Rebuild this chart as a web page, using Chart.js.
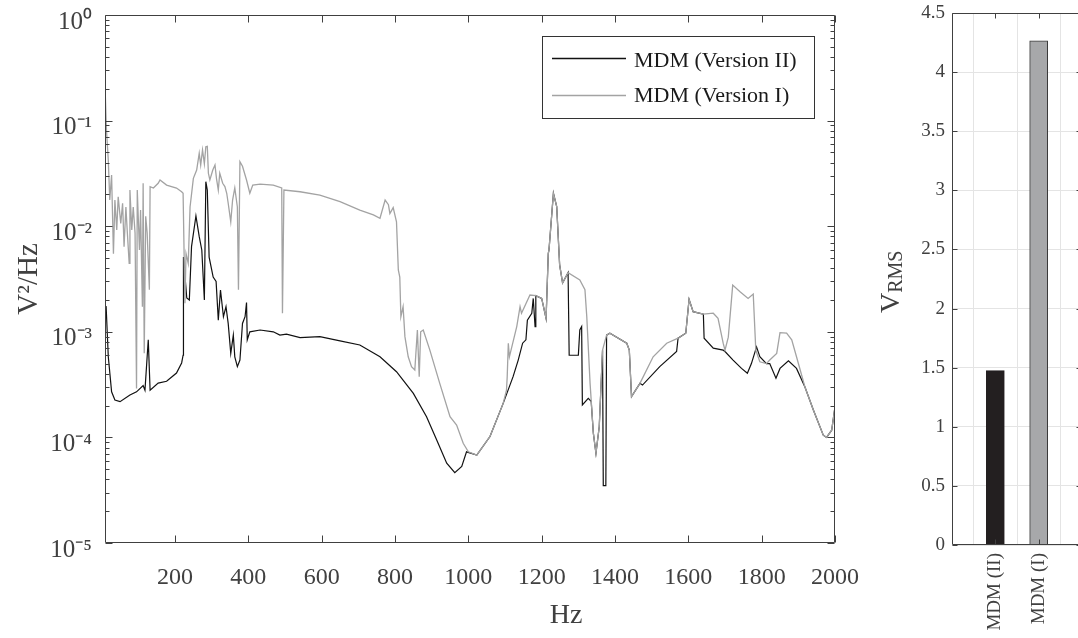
<!DOCTYPE html>
<html>
<head>
<meta charset="utf-8">
<script src="https://cdn.jsdelivr.net/npm/chart.js@4.4.0/dist/chart.umd.min.js"></script>
<style>
    html, body { margin: 0; padding: 0; background: #fff; overflow: hidden; width: 1078px; height: 638px; }
    #psdChart { position: absolute; left: 0; top: 0; }
    #rmsChart { position: absolute; left: 860px; top: 0; }
</style>
</head>
<body>
<canvas id="psdChart" width="880" height="638"></canvas>
<canvas id="rmsChart" width="230" height="638"></canvas>
<script>
// MDM (Version II) - black line
var freqII = [12, 18, 27, 36, 50, 77, 95, 113, 118, 127, 132, 154, 177, 204, 218, 222, 223, 232, 239, 245, 257, 266, 273, 280, 284, 288, 293, 304, 312, 318, 324, 332, 339, 345, 352, 359, 363, 370, 377, 384, 391, 395, 397, 404, 432, 468, 486, 504, 541, 595, 650, 704, 759, 804, 850, 886, 914, 941, 963, 982, 995, 1023, 1059, 1095, 1122, 1136, 1148, 1157, 1161, 1173, 1177, 1182, 1184, 1200, 1212, 1218, 1220, 1232, 1241, 1249, 1257, 1272, 1275, 1300, 1304, 1309, 1311, 1327, 1335, 1341, 1348, 1357, 1366, 1368, 1375, 1377, 1386, 1432, 1439, 1445, 1468, 1475, 1522, 1568, 1572, 1593, 1602, 1613, 1641, 1643, 1668, 1695, 1700, 1722, 1745, 1761, 1772, 1786, 1795, 1813, 1822, 1839, 1850, 1873, 1895, 1918, 1941, 1968, 1977, 1991, 2000];
var psdII = [1.75e-3, 5.8e-4, 2.7e-4, 2.26e-4, 2.18e-4, 2.52e-4, 2.7e-4, 3.1e-4, 2.8e-4, 8.4e-4, 2.8e-4, 3.27e-4, 3.4e-4, 4.07e-4, 5.07e-4, 6.0e-4, 5.1e-3, 2.09e-3, 2.0e-3, 6.4e-3, 1.25e-2, 7.96e-3, 5.95e-3, 2.0e-3, 2.64e-2, 2.2e-2, 5.1e-3, 3.3e-3, 3.0e-3, 1.29e-3, 2.49e-3, 1.39e-3, 1.73e-3, 1.2e-3, 6.25e-4, 9.3e-4, 5.8e-4, 4.68e-4, 5.4e-4, 1.2e-3, 1.39e-3, 1.89e-3, 8.4e-4, 1.0e-3, 1.04e-3, 1.0e-3, 9.3e-4, 9.5e-4, 8.8e-4, 9.0e-4, 8.2e-4, 7.5e-4, 5.8e-4, 4.19e-4, 2.61e-4, 1.57e-4, 9.4e-5, 5.7e-5, 4.63e-5, 5.3e-5, 7.3e-5, 6.8e-5, 1.02e-4, 2.1e-4, 3.76e-4, 5.4e-4, 7.8e-4, 8.4e-4, 1.29e-3, 1.5e-3, 2.07e-3, 1.12e-3, 2.2e-3, 2.07e-3, 1.34e-3, 5.5e-3, 6.0e-3, 2.05e-2, 1.53e-2, 4.3e-3, 2.9e-3, 3.63e-3, 6.0e-4, 6.0e-4, 1.04e-3, 1.12e-3, 2.03e-4, 2.34e-4, 2.2e-4, 1.09e-4, 7.07e-5, 1.26e-4, 6.7e-4, 3.5e-5, 3.5e-5, 9.3e-4, 9.7e-4, 7.8e-4, 6.7e-4, 2.43e-4, 3.25e-4, 3.13e-4, 4.68e-4, 6.5e-4, 8.7e-4, 9.7e-4, 2.03e-3, 1.55e-3, 1.47e-3, 8.7e-4, 7.0e-4, 6.7e-4, 6.5e-4, 5.4e-4, 4.5e-4, 4.05e-4, 5.0e-4, 7.2e-4, 5.8e-4, 5.0e-4, 5.0e-4, 3.63e-4, 4.5e-4, 5.3e-4, 4.5e-4, 3.0e-4, 1.82e-4, 1.05e-4, 1.0e-4, 1.17e-4, 1.95e-4];

// MDM (Version I) - gray line
var freqI = [10, 13, 18, 22, 27, 32, 36, 41, 45, 52, 57, 61, 66, 70, 75, 77, 82, 86, 91, 95, 97, 103, 106, 111, 113, 116, 120, 124, 130, 132, 141, 154, 159, 177, 204, 218, 222, 227, 230, 236, 241, 250, 259, 266, 270, 275, 280, 284, 288, 291, 295, 303, 309, 313, 318, 322, 330, 336, 341, 345, 352, 357, 363, 370, 373, 377, 384, 395, 404, 412, 432, 468, 491, 493, 497, 541, 595, 650, 704, 741, 759, 773, 782, 786, 795, 804, 809, 813, 816, 822, 827, 836, 845, 854, 861, 866, 870, 877, 895, 922, 950, 968, 986, 1000, 1023, 1059, 1095, 1104, 1106, 1109, 1112, 1132, 1141, 1145, 1168, 1184, 1200, 1212, 1218, 1220, 1232, 1241, 1249, 1257, 1272, 1304, 1318, 1323, 1332, 1341, 1348, 1357, 1366, 1377, 1386, 1432, 1439, 1445, 1468, 1504, 1541, 1572, 1593, 1602, 1613, 1641, 1668, 1681, 1695, 1700, 1709, 1721, 1741, 1763, 1777, 1784, 1795, 1813, 1822, 1841, 1850, 1868, 1882, 1895, 1918, 1941, 1968, 1977, 1991, 2000];
var psdI = [0.168, 8.1e-2, 4.2e-2, 1.77e-2, 3.05e-2, 5.5e-3, 1.77e-2, 9.2e-3, 1.9e-2, 1.06e-2, 1.65e-2, 6.4e-3, 1.52e-2, 8.6e-3, 4.45e-3, 2.2e-2, 9.2e-3, 1.52e-2, 8.6e-3, 2.9e-4, 2.2e-2, 5.95e-3, 1.42e-2, 1.73e-3, 2.55e-2, 6.25e-4, 1.24e-2, 8.6e-3, 2.5e-3, 2.37e-2, 2.3e-2, 2.55e-2, 2.74e-2, 2.45e-2, 2.3e-2, 2.12e-2, 2.05e-2, 1.86e-3, 5.5e-3, 4.45e-3, 1.52e-2, 2.84e-2, 3.4e-2, 4.9e-2, 3.8e-2, 5.27e-2, 3.9e-2, 5.66e-2, 5.7e-2, 3.17e-2, 2.74e-2, 3.4e-2, 3.8e-2, 2.84e-2, 2.2e-2, 3.17e-2, 2.55e-2, 2.37e-2, 2.05e-2, 1.65e-2, 1.1e-2, 1.77e-2, 2.3e-2, 1.52e-2, 2.5e-3, 4.08e-2, 3.7e-2, 2.74e-2, 2.05e-2, 2.45e-2, 2.5e-2, 2.45e-2, 2.3e-2, 1.5e-3, 2.2e-2, 2.12e-2, 1.97e-2, 1.71e-2, 1.42e-2, 1.28e-2, 1.19e-2, 1.77e-2, 1.6e-2, 1.32e-2, 1.5e-2, 1.1e-2, 3.85e-3, 3.3e-3, 1.39e-3, 1.73e-3, 9.0e-4, 5.8e-4, 4.68e-4, 4.35e-4, 1.04e-3, 3.76e-4, 1.0e-3, 1.04e-3, 6.7e-4, 3.25e-4, 1.57e-4, 1.31e-4, 8.8e-5, 7.3e-5, 6.8e-5, 1.02e-4, 2.1e-4, 2.8e-4, 3.76e-4, 7.8e-4, 5.8e-4, 1.12e-3, 1.73e-3, 1.5e-3, 2.23e-3, 2.2e-3, 2.07e-3, 1.34e-3, 5.5e-3, 6.0e-3, 2.05e-2, 1.53e-2, 4.3e-3, 2.9e-3, 3.63e-3, 3.1e-3, 2.5e-3, 1.39e-3, 3.25e-4, 1.09e-4, 7.07e-5, 1.26e-4, 6.7e-4, 9.3e-4, 9.7e-4, 7.8e-4, 6.7e-4, 2.43e-4, 3.25e-4, 5.8e-4, 7.8e-4, 8.7e-4, 9.7e-4, 2.03e-3, 1.55e-3, 1.47e-3, 1.5e-3, 1.34e-3, 7.8e-4, 6.7e-4, 8.9e-4, 2.77e-3, 2.4e-3, 2.07e-3, 2.28e-3, 6.7e-4, 5.2e-4, 5.0e-4, 5.4e-4, 6.25e-4, 9.8e-4, 9.7e-4, 8.4e-4, 5.8e-4, 3.0e-4, 1.82e-4, 1.05e-4, 1.0e-4, 1.17e-4, 1.95e-4];

var xTickValues = [200, 400, 600, 800, 1000, 1200, 1400, 1600, 1800, 2000];
var legendNames = ['MDM (Version II)', 'MDM (Version I)'];

// RMS bars
var barLabels = ['MDM (II)', 'MDM (I)'];
var barValues = [1.475, 4.265];

var FONT = "'Liberation Serif', 'Times New Roman', serif";
var AXIS_COLOR = '#404040';
var SUP = { '0': '\u2070', '1': '\u00b9', '2': '\u00b2', '3': '\u00b3', '4': '\u2074', '5': '\u2075', '-': '\u207b' };

function toPoints(xs, ys) {
    var pts = [];
    for (var i = 0; i < xs.length; i++) {
        pts.push({ x: xs[i], y: ys[i] });
    }
    return pts;
}

function isDecade(v) {
    var e = Math.log10(v);
    return Math.abs(e - Math.round(e)) < 1e-9;
}

function noPadding(scale) {
    scale.paddingTop = 0;
    scale.paddingBottom = 0;
    scale.paddingLeft = 0;
    scale.paddingRight = 0;
}

// draws the axes box and the inward tick marks (MATLAB style)
function drawBox(chart, xLen, yLenFn) {
    var ctx = chart.ctx, a = chart.chartArea;
    var l = Math.round(a.left) + 0.5, r = Math.round(a.right) - 0.5;
    var t = Math.round(a.top) + 0.5, b = Math.round(a.bottom) - 0.5;
    ctx.save();
    ctx.strokeStyle = AXIS_COLOR;
    ctx.lineWidth = 1;
    ctx.beginPath();
    ctx.rect(l, t, r - l, b - t);
    chart.scales.x.ticks.forEach(function (tk) {
        var px = Math.round(chart.scales.x.getPixelForValue(tk.value)) + 0.5;
        ctx.moveTo(px, b); ctx.lineTo(px, b - xLen);
        ctx.moveTo(px, t); ctx.lineTo(px, t + xLen);
    });
    chart.scales.y.ticks.forEach(function (tk) {
        var py = Math.round(chart.scales.y.getPixelForValue(tk.value)) + 0.5;
        var len = yLenFn(tk.value);
        ctx.moveTo(l, py); ctx.lineTo(l + len, py);
        ctx.moveTo(r, py); ctx.lineTo(r - len, py);
    });
    ctx.stroke();
    ctx.restore();
}

var psdDecor = {
    id: 'psdDecor',
    afterDatasetsDraw: function (chart) {
        drawBox(chart, 7, function (v) { return isDecade(v) ? 7 : 4; });
        var ctx = chart.ctx;
        ctx.save();
        // legend
        ctx.fillStyle = '#fff';
        ctx.strokeStyle = '#333';
        ctx.lineWidth = 1;
        ctx.fillRect(542.5, 36.5, 272, 82);
        ctx.strokeRect(542.5, 36.5, 272, 82);
        var colors = ['#111111', '#a3a3a3'];
        var lineY = [58.5, 95.5];
        var textY = [67, 102];
        for (var i = 0; i < legendNames.length; i++) {
            ctx.strokeStyle = colors[i];
            ctx.lineWidth = 1.3;
            ctx.beginPath();
            ctx.moveTo(552, lineY[i]);
            ctx.lineTo(626, lineY[i]);
            ctx.stroke();
            ctx.fillStyle = '#1a1a1a';
            ctx.font = '22px ' + FONT;
            ctx.textAlign = 'left';
            ctx.textBaseline = 'alphabetic';
            ctx.fillText(legendNames[i], 634, textY[i]);
        }
        // x axis label
        ctx.fillStyle = AXIS_COLOR;
        ctx.font = '28px ' + FONT;
        ctx.textAlign = 'center';
        ctx.fillText('Hz', 566, 623);
        ctx.restore();
    }
};

var rmsDecor = {
    id: 'rmsDecor',
    afterDatasetsDraw: function (chart) {
        drawBox(chart, 5, function () { return 5; });
        var ctx = chart.ctx;
        ctx.save();
        ctx.translate(39, 313);
        ctx.rotate(-Math.PI / 2);
        ctx.fillStyle = AXIS_COLOR;
        ctx.textAlign = 'left';
        ctx.textBaseline = 'alphabetic';
        ctx.font = '28px ' + FONT;
        ctx.fillText('V', 0, 0);
        var w = ctx.measureText('V').width;
        ctx.font = '20px ' + FONT;
        ctx.fillText('RMS', w, 3);
        ctx.restore();
    }
};

var psdChart = new Chart(document.getElementById('psdChart'), {
    type: 'line',
    data: {
        datasets: [
            {
                label: legendNames[1],
                data: toPoints(freqI, psdI),
                borderColor: '#a3a3a3',
                borderWidth: 1.3,
                pointRadius: 0,
                tension: 0,
                fill: false
            },
            {
                label: legendNames[0],
                data: toPoints(freqII, psdII),
                borderColor: '#111111',
                borderWidth: 1.2,
                pointRadius: 0,
                tension: 0,
                fill: false
            }
        ]
    },
    options: {
        responsive: false,
        animation: false,
        devicePixelRatio: 1,
        events: [],
        layout: { padding: { top: 15, right: 45, left: 0, bottom: 0 } },
        plugins: { legend: { display: false }, tooltip: { enabled: false } },
        scales: {
            x: {
                type: 'linear',
                min: 9,
                max: 2000,
                grid: { display: false },
                border: { display: false },
                afterBuildTicks: function (scale) {
                    scale.ticks = xTickValues.map(function (v) { return { value: v }; });
                },
                afterFit: function (scale) { scale.height = 95; noPadding(scale); },
                ticks: {
                    autoSkip: false,
                    maxRotation: 0,
                    padding: 12,
                    color: AXIS_COLOR,
                    font: { family: FONT, size: 24 },
                    callback: function (v) { return String(v); }
                }
            },
            y: {
                type: 'logarithmic',
                min: 1e-5,
                max: 1,
                grid: { display: false },
                border: { display: false },
                afterBuildTicks: function (scale) {
                    var ticks = [];
                    for (var e = -5; e < 0; e++) {
                        for (var m = 1; m < 10; m++) {
                            ticks.push({ value: m * Math.pow(10, e) });
                        }
                    }
                    ticks.push({ value: 1 });
                    scale.ticks = ticks;
                },
                afterFit: function (scale) { scale.width = 105; noPadding(scale); },
                title: {
                    display: true,
                    text: 'V\u00b2/Hz',
                    color: AXIS_COLOR,
                    font: { family: FONT, size: 29 },
                    padding: { top: 12, bottom: 0 }
                },
                ticks: {
                    autoSkip: false,
                    padding: 5,
                    labelOffset: 7,
                    color: AXIS_COLOR,
                    font: { family: FONT, size: 25 },
                    callback: function (v) {
                        if (!isDecade(v)) return '';
                        var e = String(Math.round(Math.log10(v)));
                        return '10' + e.split('').map(function (c) { return SUP[c]; }).join('');
                    }
                }
            }
        }
    },
    plugins: [psdDecor]
});

var rmsChart = new Chart(document.getElementById('rmsChart'), {
    type: 'bar',
    data: {
        datasets: [{
            data: barValues.map(function (v, i) { return { x: i + 1, y: v }; }),
            backgroundColor: ['#231f20', '#a7a8aa'],
            borderColor: ['#231f20', '#3a3a3a'],
            borderWidth: 1,
            barThickness: 18
        }]
    },
    options: {
        responsive: false,
        animation: false,
        devicePixelRatio: 1,
        events: [],
        layout: { padding: { top: 13, right: 8, left: 0, bottom: 0 } },
        plugins: { legend: { display: false }, tooltip: { enabled: false } },
        scales: {
            x: {
                type: 'linear',
                min: 0,
                max: 3,
                offset: false,
                grid: { color: '#e4e4e4', drawTicks: false },
                border: { display: false },
                afterBuildTicks: function (scale) {
                    scale.ticks = barLabels.map(function (n, i) { return { value: i + 1 }; });
                },
                afterFit: function (scale) { scale.height = 93; noPadding(scale); },
                ticks: {
                    autoSkip: false,
                    minRotation: 90,
                    maxRotation: 90,
                    padding: 8,
                    color: AXIS_COLOR,
                    font: { family: FONT, size: 19 },
                    callback: function (v) { return barLabels[v - 1]; }
                }
            },
            y: {
                min: 0,
                max: 4.5,
                grid: { color: '#e4e4e4', drawTicks: false },
                border: { display: false },
                afterFit: function (scale) { scale.width = 92; noPadding(scale); },
                ticks: {
                    stepSize: 0.5,
                    padding: 7,
                    color: AXIS_COLOR,
                    font: { family: FONT, size: 19 },
                    callback: function (v) { return String(v); }
                }
            }
        }
    },
    plugins: [rmsDecor]
});
</script>
</body>
</html>
